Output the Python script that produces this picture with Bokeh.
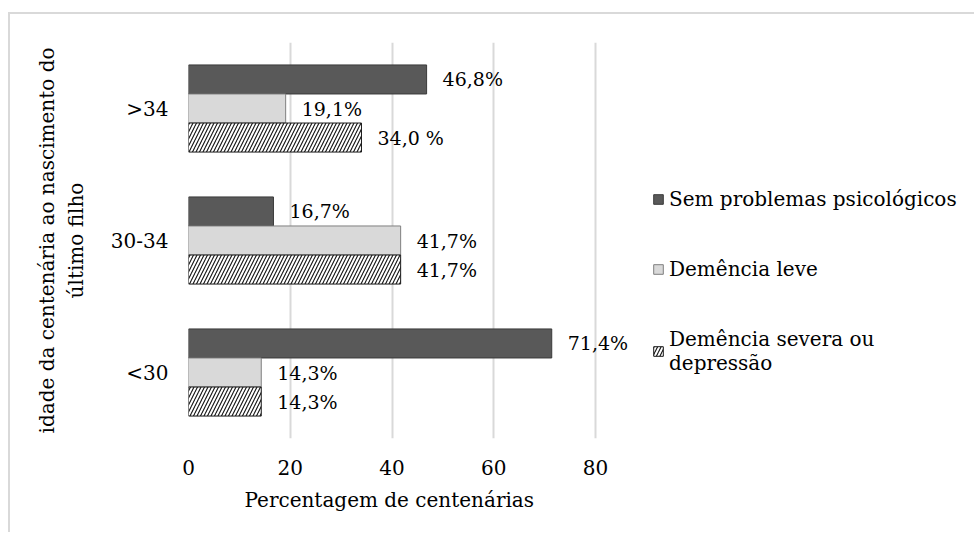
from bokeh.plotting import figure
from bokeh.models import (ColumnDataSource, FactorRange, Range1d, FixedTicker,
                          Legend, LegendItem, Title)
from bokeh.transform import dodge
from bokeh.core.properties import value
from bokeh.embed import file_html
from bokeh.resources import INLINE

# ---- data ----
categories = ["<30", "30-34", ">34"]
series_names = ["Sem problemas psicológicos", "Demência leve", "Demência severa ou\ndepressão"]
sem_problemas = [71.4, 16.7, 46.8]
demencia_leve = [14.3, 41.7, 19.1]
demencia_severa = [14.3, 41.7, 34.0]
labels_sem = ["71,4%", "16,7%", "46,8%"]
labels_leve = ["14,3%", "41,7%", "19,1%"]
labels_severa = ["14,3%", "41,7%", "34,0 %"]
x_ticks = [0, 20, 40, 60, 80]
x_title = "Percentagem de centenárias"
y_title = "idade da centenária ao nascimento do\núltimo filho"

FONT = "DejaVu Serif"
FS = "20px"
LFS = "19px"

# layout (pixels)
W, H = 966, 520
BL, BT, BB = 178, 28, 96
frame_w = W - BL
axis_max = x_ticks[-1]
px_per_axis = 407  # pixel length of 0..80
x_end = axis_max * frame_w / px_per_axis

src = ColumnDataSource(dict(cat=categories, sem=sem_problemas, leve=demencia_leve,
                            sev=demencia_severa, lsem=labels_sem, lleve=labels_leve,
                            lsev=labels_severa))

p = figure(width=W, height=H, output_backend="svg", toolbar_location=None,
           y_range=FactorRange(factors=categories), x_range=Range1d(0, x_end),
           min_border_left=BL, min_border_right=0, min_border_top=BT, min_border_bottom=BB)
p.outline_line_color = None
p.background_fill_color = "white"
p.border_fill_color = "white"
p.styles = {"margin-left": "8px", "margin-top": "12px",
            "border-left": "2px solid #d9d9d9", "border-top": "2px solid #d9d9d9"}

BH = 0.22
specs = [
    ("sem", "lsem", BH, dict(fill_color="#595959", line_color="#3a3a3a")),
    ("leve", "lleve", 0.0, dict(fill_color="#d9d9d9", line_color="#7f7f7f")),
    ("sev", "lsev", -BH, dict(fill_color="white", line_color="#1a1a1a",
                              hatch_pattern="right_diagonal_line", hatch_color="#111111",
                              hatch_scale=7, hatch_weight=1.1)),
]
renderers = []
for col, lcol, off, style in specs:
    r = p.hbar(y=dodge("cat", off, range=p.y_range), left=0, right=col, height=BH,
               source=src, line_width=1, **style)
    renderers.append(r)
    p.text(x=col, y=dodge("cat", off, range=p.y_range), text=lcol, source=src,
           x_offset=16, text_align="left", text_baseline="middle",
           text_font=value(FONT), text_font_size=LFS, text_color="black")

# axes
p.xaxis.ticker = FixedTicker(ticks=x_ticks)
p.xaxis.axis_line_color = None
p.xaxis.major_tick_line_color = None
p.xaxis.minor_tick_line_color = None
p.xaxis.major_label_text_font = FONT
p.xaxis.major_label_text_font_size = FS
p.xaxis.major_label_text_color = "black"
p.xaxis.major_label_standoff = 15

p.yaxis.axis_line_color = None
p.yaxis.major_tick_line_color = None
p.yaxis.minor_tick_line_color = None
p.yaxis.major_label_text_font = FONT
p.yaxis.major_label_text_font_size = FS
p.yaxis.major_label_text_color = "black"
p.yaxis.major_label_standoff = 14
p.yaxis.axis_label = y_title
p.yaxis.axis_label_text_font = FONT
p.yaxis.axis_label_text_font_size = FS
p.yaxis.axis_label_text_font_style = "normal"
p.yaxis.axis_label_text_color = "black"
p.yaxis.axis_label_standoff = 20

p.xgrid.grid_line_color = "#d9d9d9"
p.xgrid.grid_line_width = 2
p.ygrid.grid_line_color = None

# x axis title, centred under the 0..80 scale
xt = Title(text=x_title, align="left", offset=56, text_font=FONT, text_font_size=FS,
           text_font_style="normal", text_color="black", standoff=16)
p.add_layout(xt, "below")

# legend
items = [LegendItem(label=n, renderers=[r]) for n, r in zip(series_names, renderers)]
legend = Legend(items=items, location=(464, 63), padding=0, margin=0,
                border_line_color=None, background_fill_alpha=0,
                glyph_width=12, glyph_height=12, label_standoff=5, spacing=46,
                label_text_font=FONT, label_text_font_size=FS, label_text_color="black")
p.add_layout(legend)

open("out.html", "w").write(file_html(p, INLINE))
